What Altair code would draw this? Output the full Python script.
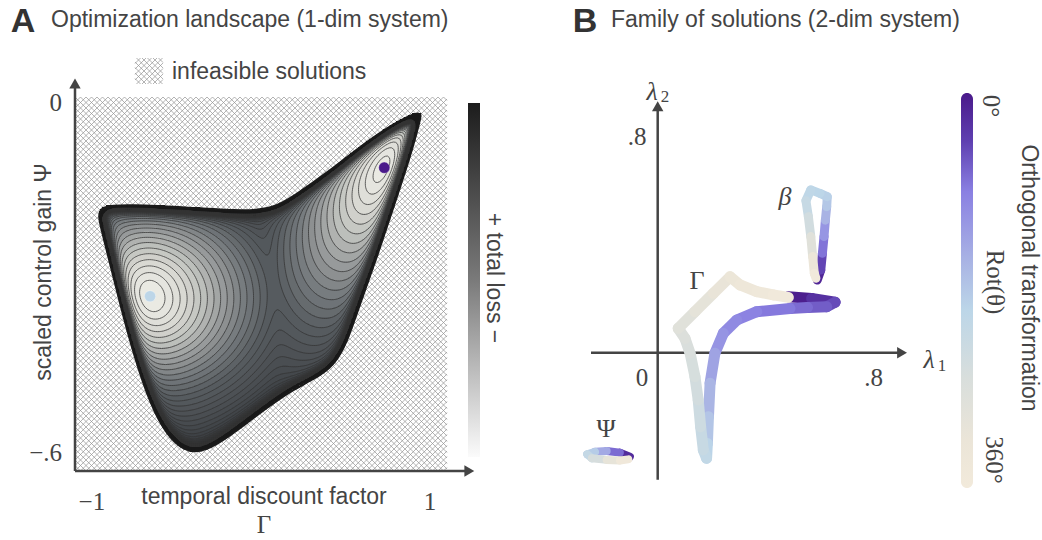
import numpy as np
import pandas as pd
import altair as alt

alt.data_transformers.disable_max_rows()

# ---------------- values ----------------
# Panel A : optimisation landscape (1-dim system)
gamma_ticks = [-1, 1]
gamma_tick_text = ["\u22121", "1"]
psi_ticks = [0, -0.6]
psi_tick_text = ["0", "\u2212.6"]

feasible_gamma = [-0.947, -0.789, -0.396, -0.081, 0.076, 0.194, 0.391, 0.587, 0.784, 0.951,
                  0.941, 0.882, 0.784, 0.686, 0.587, 0.509, 0.430, 0.312, 0.194, 0.076,
                  -0.081, -0.239, -0.357, -0.455, -0.553, -0.652, -0.750, -0.829, -0.888,
                  -0.937, -0.963]
feasible_psi = [-0.177, -0.174, -0.180, -0.186, -0.180, -0.160, -0.120, -0.075, -0.035, -0.012,
                -0.029, -0.092, -0.177, -0.263, -0.342, -0.410, -0.450, -0.473, -0.490, -0.513,
                -0.547, -0.581, -0.598, -0.595, -0.570, -0.518, -0.433, -0.348, -0.280,
                -0.223, -0.194]

minima_gamma = [-0.656, 0.729]
minima_psi = [-0.331, -0.111]
minima_theta = [200, 0]
saddle_gamma = 0.076
saddle_psi = -0.32
basin_axis_deg = [109, 66]     # long axis of each basin on screen
basin_elong = [1.5, 2.0]
basin_far_vertical = [1.15, 1.0]
n_levels = 42
saddle_band = 16.5

# Panel B : family of solutions (2-dim system)
curve_G_l1 = [0.484, 0.570, 0.657, 0.626, 0.555, 0.490, 0.367, 0.293, 0.243, 0.212, 0.194, 0.188,
              0.184, 0.181, 0.169, 0.159, 0.150, 0.138, 0.120, 0.101, 0.076, 0.138, 0.206,
              0.268, 0.305, 0.367, 0.428, 0.484]
curve_G_l2 = [0.207, 0.201, 0.187, 0.170, 0.167, 0.164, 0.152, 0.121, 0.072, -0.002, -0.113, -0.237,
              -0.336, -0.391, -0.360, -0.274, -0.175, -0.089, -0.002, 0.053, 0.090, 0.152,
              0.220, 0.281, 0.251, 0.226, 0.214, 0.205]
curve_G_theta = [0, 10, 43, 60, 70, 80, 90, 97, 108, 122, 144, 166, 187, 205, 216, 230, 241, 252,
                 259, 266, 274, 292, 306, 317, 328, 338, 349, 360]

curve_B_l1 = [0.591, 0.604, 0.610, 0.616, 0.621, 0.626, 0.628, 0.601, 0.567, 0.549, 0.558,
              0.567, 0.574, 0.580, 0.586]
curve_B_l2 = [0.269, 0.306, 0.368, 0.430, 0.491, 0.541, 0.578, 0.590, 0.603, 0.563, 0.504,
              0.430, 0.356, 0.294, 0.276]
curve_B_theta = [0, 29, 65, 97, 137, 169, 187, 196, 202, 209, 230, 259, 306, 346, 360]

curve_P_l1 = [-0.103, -0.140, -0.189, -0.232, -0.261, -0.244, -0.189, -0.140, -0.109]
curve_P_l2 = [-0.385, -0.370, -0.364, -0.367, -0.376, -0.391, -0.397, -0.399, -0.395]
curve_P_theta = [0, 40, 110, 170, 200, 230, 280, 330, 360]

rot_colors = ["#4a1a8a", "#5e3fb0", "#8a80e2", "#a8b2e4", "#bcd6e8", "#d8dedc", "#ebe5d8", "#f2eadb"]
rot_stops = [0, 0.12, 0.25, 0.42, 0.55, 0.72, 0.88, 1.0]
loss_stops = [0, 0.03, 0.08, 0.15, 0.22, 0.30, 0.39, 0.55, 0.75, 1.0]
loss_colors = ["#ecece5", "#e6e6e0", "#dadad4", "#bfc1bd", "#9a9d9d", "#767b7e", "#565b5f",
               "#42464a", "#2c2e30", "#171717"]

SANS = "Liberation Sans"
SERIF = "Liberation Serif"
INK = "#444444"
TXT = 23

# ---------------- scales ----------------
XA_DOM, YA_DOM = [-1.1, 1.1], [-0.63, 0.01]
XA_RNG, YA_RNG = [75, 447], [471, 97]
XA = alt.Scale(domain=XA_DOM, range=XA_RNG, nice=False, zero=False)
YA = alt.Scale(domain=YA_DOM, range=YA_RNG, nice=False, zero=False)
XB = alt.Scale(domain=[0, 1], range=[657.7, 927.7], nice=False, zero=False)
YB = alt.Scale(domain=[0, 1], range=[352.7, 82.7], nice=False, zero=False)
THETA = alt.Scale(domain=[s * 360 for s in rot_stops], range=rot_colors, interpolate="rgb")
LOSS = alt.Scale(domain=loss_stops, range=loss_colors, interpolate="rgb")

sx = (XA_RNG[1] - XA_RNG[0]) / (XA_DOM[1] - XA_DOM[0])
sy = (YA_RNG[0] - YA_RNG[1]) / (YA_DOM[1] - YA_DOM[0])
W, H = XA_RNG[1] - XA_RNG[0], YA_RNG[0] - YA_RNG[1]


def to_u(x):
    return (np.asarray(x, float) - XA_DOM[0]) * sx


def to_v(y):
    return (YA_DOM[1] - np.asarray(y, float)) * sy


def from_u(u):
    return XA_DOM[0] + np.asarray(u, float) / sx


def from_v(v):
    return YA_DOM[1] - np.asarray(v, float) / sy


# ---------------- landscape field (screen units) ----------------
def chaikin(P, n=3):
    for _ in range(n):
        Q = np.roll(P, -1, axis=0)
        P = np.column_stack([0.75 * P + 0.25 * Q, 0.25 * P + 0.75 * Q]).reshape(-1, 2)
    return P


def box1d(A, r, axis):
    pad = [(0, 0), (0, 0)]
    pad[axis] = (r + 1, r)
    c = np.cumsum(np.pad(A, pad, mode="edge"), axis=axis)
    if axis == 0:
        return (c[2 * r + 1:] - c[:-2 * r - 1]) / (2 * r + 1)
    return (c[:, 2 * r + 1:] - c[:, :-2 * r - 1]) / (2 * r + 1)


poly = chaikin(np.column_stack([to_u(feasible_gamma), to_v(feasible_psi)]))
uu, vv = np.meshgrid(np.arange(W) + 0.5, np.arange(H) + 0.5)

inside = np.zeros(uu.shape, bool)
dist = np.full(uu.shape, 1e9)
for k in range(len(poly)):
    x1, y1 = poly[k]
    x2, y2 = poly[(k + 1) % len(poly)]
    cond = ((y1 > vv) != (y2 > vv)) & (uu < (x2 - x1) * (vv - y1) / (y2 - y1 + 1e-12) + x1)
    inside ^= cond
    dx, dy = x2 - x1, y2 - y1
    t = np.clip(((uu - x1) * dx + (vv - y1) * dy) / (dx * dx + dy * dy + 1e-12), 0, 1)
    dist = np.minimum(dist, np.hypot(uu - (x1 + t * dx), vv - (y1 + t * dy)))

sd = np.where(inside, dist, -dist)
for _ in range(3):
    sd = box1d(box1d(sd, 4, 0), 4, 1)


def basin_r(U, V, i):
    cu, cv = to_u(minima_gamma[i]), to_v(minima_psi[i])
    a = np.radians(basin_axis_deg[i])
    eu, ev = np.cos(a), -np.sin(a)
    du, dv = U - cu, V - cv
    along = du * eu + dv * ev
    across = -du * ev + dv * eu
    riso = np.hypot(du, dv)
    w = np.exp(-riso / (40 + 20 * i))
    near = np.sqrt((along / basin_elong[i]) ** 2 + across ** 2)
    far = np.sqrt(du ** 2 + (dv * basin_far_vertical[i]) ** 2)
    if i == 1:
        far = near
    return w * near + (1 - w) * far


su, sv = to_u(saddle_gamma), to_v(saddle_psi)
steep2 = float(basin_r(su, sv, 0) / basin_r(su, sv, 1))


def soft(r, r0=10.0):
    return np.sqrt(r * r + r0 * r0) - r0


p1 = soft(basin_r(uu, vv, 0))
p2 = soft(basin_r(uu, vv, 1) * steep2)
m = np.minimum(p1, p2)
phi = m - 6.0 * np.log(np.exp(-(p1 - m) / 6.0) + np.exp(-(p2 - m) / 6.0))
E = phi + 2000.0 / np.maximum(sd, 0.7) ** 2
E = np.where(inside, E, 1e6)
Emin = E[inside].min()
iS, jS = int(sv), int(su)
step = (E[iS, jS] - Emin) / saddle_band
Lv = (E - Emin) / step            # landscape in units of contour steps
band = np.where(inside, np.clip(np.floor(Lv), 0, n_levels - 1).astype(int), -1)
Lc = np.where(inside, np.minimum(Lv, n_levels + 5), n_levels + 5)

# raster of filled bands (run-length merged rows of 2 px)
rects = []
for r in range(0, H // 2):
    b = band[2 * r + 1]
    ch = np.nonzero(np.diff(b))[0] + 1
    st = np.r_[0, ch]
    en = np.r_[ch, W]
    for s, e in zip(st, en):
        if b[s] >= 0:
            rects.append((from_u(s), from_u(e + 0.3), from_v(2 * r), from_v(2 * r + 2.3),
                          (b[s] + 0.5) / n_levels))
raster = pd.DataFrame(rects, columns=["x", "x2", "y", "y2", "loss"])

# contour lines by marching squares
SEG = {1: [(3, 0)], 2: [(0, 1)], 3: [(3, 1)], 4: [(1, 2)], 5: [(3, 0), (1, 2)], 6: [(0, 2)],
       7: [(3, 2)], 8: [(2, 3)], 9: [(0, 2)], 10: [(0, 1), (2, 3)], 11: [(1, 2)], 12: [(1, 3)],
       13: [(0, 1)], 14: [(0, 3)]}


def contour_paths(F, gx, gy, level):
    B = F > level
    case = (B[:-1, :-1] * 1) | (B[:-1, 1:] * 2) | (B[1:, 1:] * 4) | (B[1:, :-1] * 8)
    ii, jj = np.nonzero((case > 0) & (case < 15))

    def key(e, i, j):
        return [("h", i, j), ("v", i, j + 1), ("h", i + 1, j), ("v", i, j)][e]

    def point(k):
        kind, i, j = k
        if kind == "h":
            f0, f1 = F[i, j], F[i, j + 1]
            t = (level - f0) / (f1 - f0)
            return gx[j] + t * (gx[j + 1] - gx[j]), gy[i]
        f0, f1 = F[i, j], F[i + 1, j]
        t = (level - f0) / (f1 - f0)
        return gx[j], gy[i] + t * (gy[i + 1] - gy[i])

    adj = {}
    for i, j in zip(ii, jj):
        for a, b in SEG[int(case[i, j])]:
            ka, kb = key(a, i, j), key(b, i, j)
            adj.setdefault(ka, []).append(kb)
            adj.setdefault(kb, []).append(ka)
    seen, paths = set(), []
    order = [k for k, v in adj.items() if len(v) == 1] + list(adj.keys())
    for s in order:
        if s in seen:
            continue
        path, prev, cur = [s], None, s
        seen.add(s)
        while True:
            nxt = None
            for n in adj[cur]:
                if n != prev and n not in seen:
                    nxt = n
                    break
            if nxt is None:
                if len(path) > 2 and s in adj[cur]:
                    path.append(s)
                break
            path.append(nxt)
            seen.add(nxt)
            prev, cur = cur, nxt
        paths.append([point(k) for k in path])
    return paths


F2 = Lc[::2, ::2]
gx = uu[0, ::2]
gy = vv[::2, 0]
crows = []
for lev in range(1, n_levels):
    for p_i, pts in enumerate(contour_paths(F2, gx, gy, float(lev))):
        for o, (pu, pv) in enumerate(pts):
            crows.append((f"{lev}-{p_i}", o, float(from_u(pu)), float(from_v(pv))))
contours = pd.DataFrame(crows, columns=["path", "ord", "x", "y"])

outline = pd.DataFrame({"x": feasible_gamma, "y": feasible_psi, "ord": range(len(feasible_gamma))})


# hatch pattern for the infeasible region
def hatch(u0, v0, w, h, step=5.5):
    out = []
    for c in np.arange(-h, w, step):
        a, b = max(0, c), min(w, h + c)
        if b > a:
            out.append((u0 + a, v0 + a - c, u0 + b, v0 + b - c))
    for c in np.arange(0, w + h, step):
        a, b = max(0, c - h), min(w, c)
        if b > a:
            out.append((u0 + a, v0 + c - a, u0 + b, v0 + c - b))
    df = pd.DataFrame(out, columns=["u", "v", "u2", "v2"])
    return pd.DataFrame({"x": from_u(df.u), "y": from_v(df.v), "x2": from_u(df.u2), "y2": from_v(df.v2)})


hatch_bg = hatch(0, 0, W, H)
hatch_key = hatch(135 - XA_RNG[0], 58 - YA_RNG[1], 28, 26)


def rules(df, color, width):
    return alt.Chart(df).mark_rule(color=color, strokeWidth=width).encode(
        x=alt.X("x:Q", scale=XA, axis=None), y=alt.Y("y:Q", scale=YA, axis=None),
        x2="x2:Q", y2="y2:Q")


minima = pd.DataFrame({"x": minima_gamma, "y": minima_psi, "theta": minima_theta})
a_xticks = pd.DataFrame({"v": gamma_ticks, "t": gamma_tick_text})
a_yticks = pd.DataFrame({"v": psi_ticks, "t": psi_tick_text})
a_axes = pd.DataFrame({"x": [-1.1, -1.1], "y": [-0.63, -0.63], "x2": [1.22, -1.1], "y2": [-0.63, 0.03]})

layerA = alt.layer(
    rules(hatch_bg, "#929292", 0.7),
    rules(hatch_key, "#929292", 0.7),
    alt.Chart(raster).mark_rect().encode(
        x=alt.X("x:Q", scale=XA, axis=None), x2="x2:Q",
        y=alt.Y("y:Q", scale=YA, axis=None), y2="y2:Q",
        color=alt.Color("loss:Q", scale=LOSS, legend=None)),
    alt.Chart(contours).mark_line(color="#333333", strokeWidth=0.9, opacity=0.85).encode(
        x=alt.X("x:Q", scale=XA, axis=None), y=alt.Y("y:Q", scale=YA, axis=None),
        detail="path:N", order="ord:Q"),
    alt.Chart(outline).mark_line(color="#1a1a1a", strokeWidth=2.2, interpolate="basis-closed").encode(
        x=alt.X("x:Q", scale=XA, axis=None), y=alt.Y("y:Q", scale=YA, axis=None), order="ord:Q"),
    alt.Chart(minima).mark_circle(size=125, opacity=1, stroke="#ffffff", strokeWidth=0.6,
                                  strokeOpacity=0.5).encode(
        x=alt.X("x:Q", scale=XA, axis=None), y=alt.Y("y:Q", scale=YA, axis=None),
        fill=alt.Fill("theta:Q", scale=THETA, legend=None)),
    rules(a_axes, INK, 2.5),
    alt.Chart(pd.DataFrame({"x": [1.232], "y": [-0.63]})).mark_point(
        shape="triangle-right", filled=True, size=130, color=INK, opacity=1).encode(
        x=alt.X("x:Q", scale=XA, axis=None), y=alt.Y("y:Q", scale=YA, axis=None)),
    alt.Chart(pd.DataFrame({"x": [-1.1], "y": [0.033]})).mark_point(
        shape="triangle-up", filled=True, size=130, color=INK, opacity=1).encode(
        x=alt.X("x:Q", scale=XA, axis=None), y=alt.Y("y:Q", scale=YA, axis=None)),
    alt.Chart(a_xticks).mark_text(font=SERIF, fontSize=25, color=INK).encode(
        x=alt.X("v:Q", scale=XA, axis=None), y=alt.value(502), text="t:N"),
    alt.Chart(a_yticks).mark_text(font=SERIF, fontSize=25, color=INK, align="right").encode(
        y=alt.Y("v:Q", scale=YA, axis=None), x=alt.value(62), text="t:N"),
)

# ---------------- panel B ----------------
def segments(l1, l2, th):
    return pd.DataFrame({"x": l1[:-1], "y": l2[:-1], "x2": l1[1:], "y2": l2[1:],
                         "theta": [(a + b) / 2 for a, b in zip(th[:-1], th[1:])]})


def curve(df, width):
    return alt.Chart(df).mark_rule(strokeWidth=width, strokeCap="round").encode(
        x=alt.X("x:Q", scale=XB, axis=None), y=alt.Y("y:Q", scale=YB, axis=None),
        x2="x2:Q", y2="y2:Q", color=alt.Color("theta:Q", scale=THETA, legend=None))


b_axes = pd.DataFrame({"x": [-0.247, 0.0], "y": [0.0, -0.471], "x2": [0.90, 0.0], "y2": [0.0, 0.91]})
b_xtick = pd.DataFrame({"v": [0.8], "t": [".8"]})
b_ytick = pd.DataFrame({"v": [0.8], "t": [".8"]})

layerB = alt.layer(
    alt.Chart(b_axes).mark_rule(color=INK, strokeWidth=2.5).encode(
        x=alt.X("x:Q", scale=XB, axis=None), y=alt.Y("y:Q", scale=YB, axis=None), x2="x2:Q", y2="y2:Q"),
    alt.Chart(pd.DataFrame({"x": [0.905], "y": [0.0]})).mark_point(
        shape="triangle-right", filled=True, size=130, color=INK, opacity=1).encode(
        x=alt.X("x:Q", scale=XB, axis=None), y=alt.Y("y:Q", scale=YB, axis=None)),
    alt.Chart(pd.DataFrame({"x": [0.0], "y": [0.913]})).mark_point(
        shape="triangle-up", filled=True, size=130, color=INK, opacity=1).encode(
        x=alt.X("x:Q", scale=XB, axis=None), y=alt.Y("y:Q", scale=YB, axis=None)),
    curve(segments(curve_G_l1, curve_G_l2, curve_G_theta), 11),
    curve(segments(curve_B_l1, curve_B_l2, curve_B_theta), 9),
    curve(segments(curve_P_l1, curve_P_l2, curve_P_theta), 8),
    alt.Chart(b_xtick).mark_text(font=SERIF, fontSize=25, color=INK).encode(
        x=alt.X("v:Q", scale=XB, axis=None), y=alt.value(378), text="t:N"),
    alt.Chart(b_ytick).mark_text(font=SERIF, fontSize=25, color=INK).encode(
        y=alt.Y("v:Q", scale=YB, axis=None), x=alt.value(637), text="t:N"),
)


# ---------------- annotations ----------------
def label(text, x, y, size=TXT, font=SANS, angle=0, align="center", color=INK, weight="normal",
          style="normal", baseline="middle"):
    return alt.Chart(pd.DataFrame({"t": [text]})).mark_text(
        font=font, fontSize=size, angle=angle, align=align, baseline=baseline, color=color,
        fontWeight=weight, fontStyle=style).encode(x=alt.value(x), y=alt.value(y), text="t:N")


grad_loss = alt.Gradient(gradient="linear", x1=0, x2=0, y1=0, y2=1,
                         stops=[alt.GradientStop(color="#1c1c1c", offset=0),
                                alt.GradientStop(color="#7a7a7a", offset=0.5),
                                alt.GradientStop(color="#fbfbfb", offset=1)])
grad_rot = alt.Gradient(gradient="linear", x1=0, x2=0, y1=0, y2=1,
                        stops=[alt.GradientStop(color=c, offset=o) for c, o in zip(rot_colors, rot_stops)])

one = pd.DataFrame({"k": [0]})
texts = alt.layer(
    alt.Chart(one).mark_rect(color=grad_loss).encode(
        x=alt.value(468), x2=alt.value(480), y=alt.value(103), y2=alt.value(457)),
    alt.Chart(one).mark_rect(color=grad_rot, cornerRadius=6).encode(
        x=alt.value(961), x2=alt.value(973), y=alt.value(93), y2=alt.value(488)),
    label("A", 23, 32, size=34, weight="bold", color="#333333", baseline="alphabetic"),
    label("Optimization landscape (1-dim system)", 51, 27, align="left", baseline="alphabetic"),
    label("B", 585, 32, size=34, weight="bold", color="#333333", baseline="alphabetic"),
    label("Family of solutions (2-dim system)", 611, 27, align="left", baseline="alphabetic"),
    label("infeasible solutions", 172, 72, align="left"),
    label("scaled control gain \u03a8", 44, 272, angle=270),
    label("temporal discount factor", 264, 497),
    label("\u0393", 264, 525, size=25, font=SERIF),
    label("+ total loss \u2212", 494, 278, angle=90),
    label("\u03bb", 652, 92, size=26, font=SERIF, style="italic"),
    label("2", 665, 97, size=17, font=SERIF),
    label("\u03bb", 929, 360, size=26, font=SERIF, style="italic"),
    label("1", 942, 366, size=17, font=SERIF),
    label("0", 642, 378, size=25, font=SERIF),
    label("\u0393", 697, 281, size=26, font=SERIF),
    label("\u03b2", 785, 197, size=26, font=SERIF, style="italic"),
    label("\u03a8", 606, 429, size=26, font=SERIF),
    label("0\u00b0", 991, 106, size=25, font=SERIF, angle=90),
    label("Rot(\u03b8)", 995, 282, size=25, font=SERIF, angle=90),
    label("360\u00b0", 994, 460, size=25, font=SERIF, angle=90),
    label("Orthogonal transformation", 1029, 278, angle=90),
)

chart = alt.layer(layerA, layerB, texts).resolve_scale(
    x="independent", y="independent", color="independent", fill="independent"
).properties(
    width=1042, height=540, autosize=alt.AutoSizeParams(type="none"), padding=0,
    background="white"
).configure_view(stroke=None)

chart.save("out.html", embed_options={"renderer": "svg", "actions": False})
